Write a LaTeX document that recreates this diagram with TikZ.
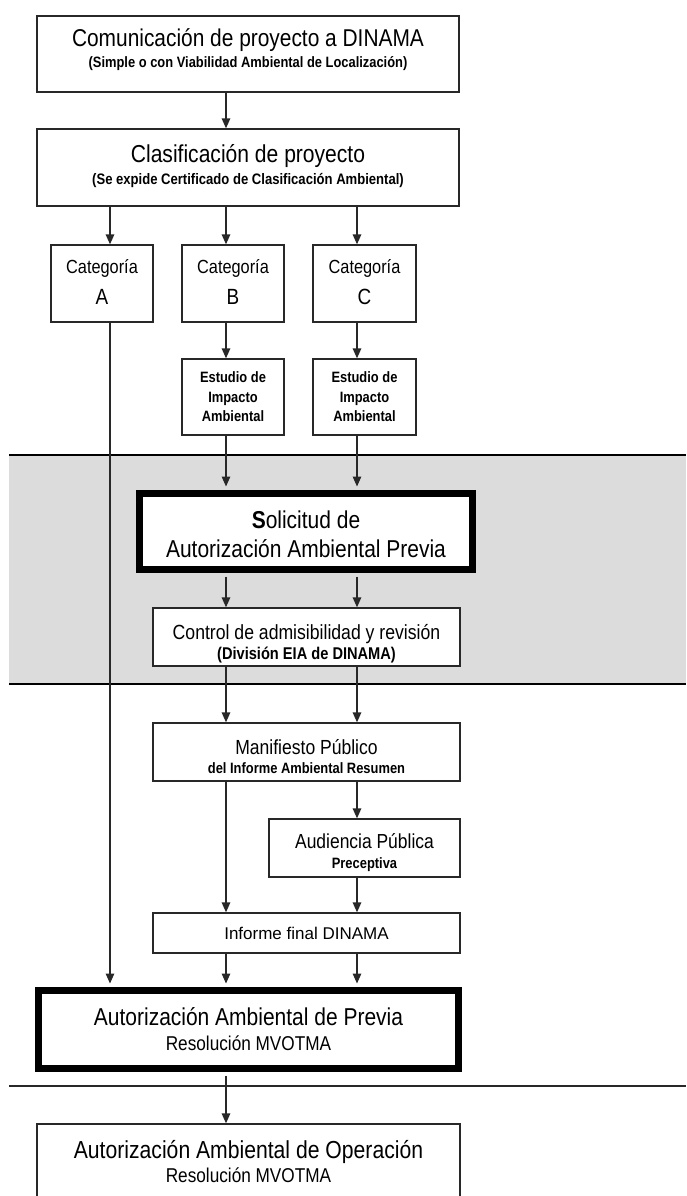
\documentclass[tikz,border=0pt]{standalone}
\usepackage{fontspec}
\setmainfont{Liberation Sans}[FakeStretch=0.86]
\newfontfamily\widefont{Liberation Sans}
\usetikzlibrary{arrows.meta}
\definecolor{band}{RGB}{220,220,220}
\definecolor{ln}{RGB}{40,40,40}
\newcommand{\fs}[2]{\fontsize{#1}{#2}\selectfont}
\newcommand{\dn}[1]{\rule[-#1]{0pt}{#1}}
\newcommand{\up}[1]{\rule{0pt}{#1}}
\tikzset{
  box/.style={draw=ln, line width=1.3pt, fill=white, rectangle, align=center, inner sep=0pt},
  thickbox/.style={draw=black, line width=7pt, fill=white, rectangle, align=center, inner sep=0pt},
  arr/.style={draw=ln, line width=1.4pt, -{Triangle[width=8.5pt,length=10pt]}},
  sep/.style={draw=black, line width=1.8pt},
}
\begin{document}
\begin{tikzpicture}[x=1pt,y=-1pt]
\clip (0,0) rectangle (686,1196);
\fill[white] (0,0) rectangle (686,1196);
% grey band
\fill[band] (9,455) rectangle (686,684);
\draw[sep] (9,455) -- (686,455);
\draw[sep] (9,684) -- (686,684);
\draw[draw=ln, line width=1.2pt] (9,1086) -- (686,1086);

% nodes
\node[box, minimum width=422pt, minimum height=76pt, font=\fs{15}{21}] (com) at (248,54)
  {{\fs{24.3}{26}Comunicación de proyecto a DINAMA}\\{\bfseries (Simple o con Viabilidad Ambiental de Localización)\dn{12pt}}};
\node[box, minimum width=422pt, minimum height=77pt, font=\fs{15.2}{22}] (cla) at (248,167.5)
  {{\fs{24.5}{26}Clasificación de proyecto}\\{\bfseries (Se expide Certificado de Clasificación Ambiental)\dn{6pt}}};
\node[box, minimum width=102pt, minimum height=77pt, font=\fs{22}{31}] (ca) at (102,283.5)
  {{\fs{19}{20}Categoría}\\A\dn{2pt}};
\node[box, minimum width=102pt, minimum height=77pt, font=\fs{22}{31}] (cb) at (233,283.5)
  {{\fs{19}{20}Categoría}\\B\dn{2pt}};
\node[box, minimum width=103pt, minimum height=77pt, font=\fs{22}{31}] (cc) at (364.5,283.5)
  {{\fs{19}{20}Categoría}\\C\dn{2pt}};
\node[box, minimum width=102pt, minimum height=76pt, font=\bfseries\fs{15}{19.5}] (eb) at (233,397)
  {Estudio de\\Impacto\\Ambiental};
\node[box, minimum width=103pt, minimum height=76pt, font=\bfseries\fs{15}{19.5}] (ec) at (364.5,397)
  {Estudio de\\Impacto\\Ambiental};
\node[thickbox, minimum width=333pt, minimum height=76pt, font=\fs{24.4}{29}] (sol) at (306,531.5)
  {\up{22.5pt}{\bfseries S}olicitud de\\Autorización Ambiental Previa};
\node[box, minimum width=307pt, minimum height=58pt, font=\bfseries\fs{17}{20}] (ctl) at (306.5,637)
  {{\mdseries\fs{20.5}{22}\up{29pt}Control de admisibilidad y revisión}\\(División EIA de DINAMA)};
\node[box, minimum width=307pt, minimum height=58pt, font=\bfseries\fs{15}{19}] (man) at (306.5,752)
  {{\mdseries\fs{20.4}{22}\up{25pt}Manifiesto Público}\\del Informe Ambiental Resumen};
\node[box, minimum width=191pt, minimum height=58pt, font=\bfseries\fs{15}{20}] (aud) at (364.5,848)
  {{\mdseries\fs{20.3}{22}\up{25pt}Audiencia Pública}\\Preceptiva};
\node[box, minimum width=307pt, minimum height=40pt, font=\widefont\fs{17}{19}] (inf) at (306.5,933)
  {Informe final DINAMA};
\node[thickbox, minimum width=420pt, minimum height=78pt, font=\fs{20}{25}] (pre) at (248.5,1029.5)
  {{\fs{24.4}{26}Autorización Ambiental de Previa}\\Resolución MVOTMA};
\node[box, minimum width=423pt, minimum height=76pt, font=\fs{20}{24}] (ope) at (248.5,1162)
  {{\fs{24.6}{26}Autorización Ambiental de Operación}\\Resolución MVOTMA};

% connector columns
\coordinate (xa) at (110,0);
\coordinate (xb) at (226,0);
\coordinate (xc) at (357,0);

\draw[arr] (com.south -| xb) -- (cla.north -| xb);
\draw[arr] (cla.south -| xa) -- (ca.north -| xa);
\draw[arr] (cla.south -| xb) -- (cb.north -| xb);
\draw[arr] (cla.south -| xc) -- (cc.north -| xc);
\draw[arr] (cb.south -| xb) -- (eb.north -| xb);
\draw[arr] (cc.south -| xc) -- (ec.north -| xc);
\draw[arr, shorten >=3.5pt] (eb.south -| xb) -- (sol.north -| xb);
\draw[arr, shorten >=3.5pt] (ec.south -| xc) -- (sol.north -| xc);
\draw[arr, shorten <=3.5pt] (sol.south -| xb) -- (ctl.north -| xb);
\draw[arr, shorten <=3.5pt] (sol.south -| xc) -- (ctl.north -| xc);
\draw[arr] (ctl.south -| xb) -- (man.north -| xb);
\draw[arr] (ctl.south -| xc) -- (man.north -| xc);
\draw[arr] (man.south -| xc) -- (aud.north -| xc);
\draw[arr] (man.south -| xb) -- (inf.north -| xb);
\draw[arr] (aud.south -| xc) -- (inf.north -| xc);
\draw[arr, shorten >=3.5pt] (ca.south -| xa) -- (pre.north -| xa);
\draw[arr, shorten >=3.5pt] (inf.south -| xb) -- (pre.north -| xb);
\draw[arr, shorten >=3.5pt] (inf.south -| xc) -- (pre.north -| xc);
\draw[arr, shorten <=3.5pt] (pre.south -| xb) -- (ope.north -| xb);
\end{tikzpicture}
\end{document}
